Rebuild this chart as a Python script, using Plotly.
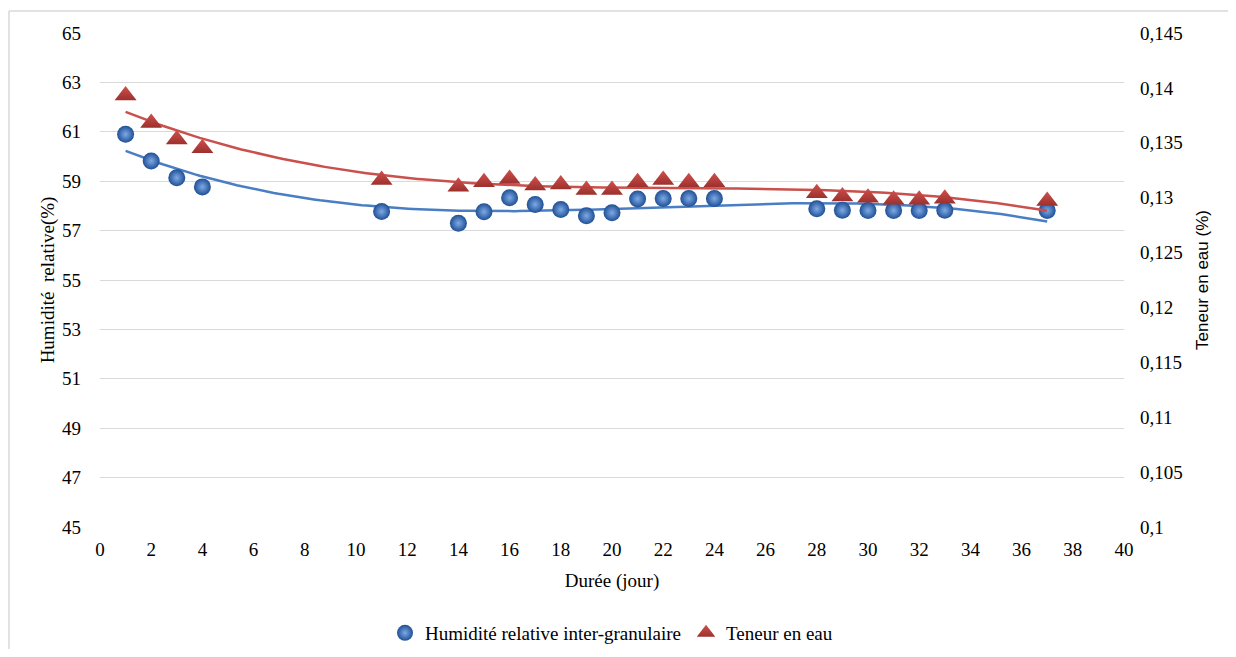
import numpy as np
import plotly.graph_objects as go

# Data
jours = [1, 2, 3, 4, 11, 14, 15, 16, 17, 18, 19, 20, 21, 22, 23, 24, 28, 29, 30, 31, 32, 33, 37]
humidite = [60.9, 59.82, 59.14, 58.77, 57.77, 57.3, 57.76, 58.33, 58.06, 57.85, 57.6, 57.72,
            58.28, 58.3, 58.3, 58.3, 57.88, 57.82, 57.81, 57.81, 57.81, 57.82, 57.81]
teneur = [0.1393, 0.1368, 0.1353, 0.1345, 0.1316, 0.1310, 0.1314, 0.1317, 0.1311, 0.1312, 0.1307,
          0.1307, 0.1314, 0.1316, 0.1314, 0.1314, 0.1304, 0.1301, 0.1300, 0.1298, 0.1298, 0.1299, 0.1297]

left_ticks = [45, 47, 49, 51, 53, 55, 57, 59, 61, 63, 65]
right_ticks = [0.1, 0.105, 0.11, 0.115, 0.12, 0.125, 0.13, 0.135, 0.14, 0.145]
right_labels = ["0,1", "0,105", "0,11", "0,115", "0,12", "0,125", "0,13", "0,135", "0,14", "0,145"]
x_ticks = list(range(0, 41, 2))

# Polynomial trendlines (order 3, like the spreadsheet trendline)
xs = np.linspace(min(jours), max(jours), 200)
ph = np.polyfit(jours, humidite, 3)
pt = np.polyfit(jours, teneur, 3)

SERIF = "Liberation Serif, DejaVu Serif, serif"
SANS = "Liberation Sans, Arial, sans-serif"

# The page body has an 8px margin; figure sized so the plot lands where the reference has it.
W, H = 1220, 641
L, T = 92, 25
PW, PH = 1024, 494

fig = go.Figure()
fig.add_trace(go.Scatter(x=xs, y=np.polyval(ph, xs), mode="lines",
                         line=dict(color="#4a7ec4", width=2.5), showlegend=False, hoverinfo="skip"))
fig.add_trace(go.Scatter(x=xs, y=np.polyval(pt, xs), mode="lines", yaxis="y2",
                         line=dict(color="#c9504c", width=2.5), showlegend=False, hoverinfo="skip"))
fig.add_trace(go.Scatter(x=jours, y=humidite, mode="markers", name="Humidité relative inter-granulaire",
                         marker=dict(symbol="circle", size=17, color="#1f4f95",
                                     gradient=dict(type="radial", color="#7eaae6"),
                                     line=dict(width=0))))
fig.add_trace(go.Scatter(x=jours, y=teneur, mode="markers", name="Teneur en eau", yaxis="y2",
                         marker=dict(symbol="triangle-up", size=19, color="#d0504c",
                                     gradient=dict(type="vertical", color="#9c302d"),
                                     line=dict(width=0))))

border = dict(color="#d9d9d9", width=1.5)
fig.update_layout(
    width=W, height=H,
    margin=dict(l=L, r=W - L - PW, t=T, b=H - T - PH, autoexpand=False),
    paper_bgcolor="white", plot_bgcolor="white",
    font=dict(family=SERIF, size=19, color="#000000"),
    xaxis=dict(range=[0, 40], tickvals=x_ticks, showgrid=False, zeroline=False,
               showline=False, ticks="", ticklabelstandoff=9,
               title=dict(text="Durée (jour)", standoff=14, font=dict(size=19))),
    yaxis=dict(range=[45, 65], tickvals=left_ticks, showgrid=True, gridcolor="#d9d9d9",
               gridwidth=1, zeroline=False, showline=False, ticks="", ticklabelstandoff=18,
               title=dict(text="Humidité  relative(%)", standoff=2, font=dict(size=19))),
    yaxis2=dict(range=[0.1, 0.145], tickvals=right_ticks, ticktext=right_labels,
                overlaying="y", side="right", showgrid=False, zeroline=False, showline=False,
                ticks="", ticklabelstandoff=15,
                title=dict(text="Teneur en eau (%)", standoff=14,
                           font=dict(family=SANS, size=17))),
    legend=dict(orientation="h", x=(385 - 100) / PW, xanchor="left", y=(527 - 633) / PH,
                yanchor="middle", font=dict(size=19), itemwidth=30, tracegroupgap=0),
    shapes=[
        dict(type="line", xref="paper", yref="paper", x0=(9 - 100) / PW, x1=(9 - 100) / PW,
             y0=(527 - 700) / PH, y1=(527 - 11) / PH, line=border, layer="below"),
        dict(type="line", xref="paper", yref="paper", x0=(9 - 100) / PW, x1=(1300 - 100) / PW,
             y0=(527 - 11) / PH, y1=(527 - 11) / PH, line=border, layer="below"),
    ],
)

fig.write_html("out.html")
